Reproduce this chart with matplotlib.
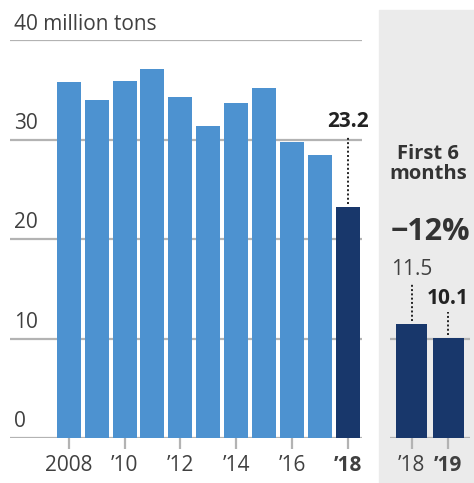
import matplotlib.pyplot as plt
from matplotlib.patches import Rectangle

# annual values, million tons
years = list(range(2008, 2019))
tons = [35.8, 34.0, 35.9, 37.1, 34.3, 31.4, 33.7, 35.2, 29.7, 28.4, 23.2]
tick_years = [2008, 2010, 2012, 2014, 2016, 2018]
tick_labels = ["2008", "\u201910", "\u201912", "\u201914", "\u201916", "\u201918"]

# first six months
half_labels = ["\u201918", "\u201919"]
half_tons = [11.5, 10.1]

light = "#4d92d0"
dark = "#18376b"
grid_c = "#b3b3b3"
txt = "#404040"
fs = 15
plt.rcParams['font.family'] = ['Open Sans', 'DejaVu Sans']

W, H = 474, 483
fig = plt.figure(figsize=(W / 100, H / 100), dpi=100)

def px(x0, y0, x1, y1):
    # pixel box (top-left origin) -> figure fraction
    return [x0 / W, 1 - y1 / H, (x1 - x0) / W, (y1 - y0) / H]

# grey panel on the right
fig.patches.append(Rectangle((379 / W, 0), 1, 1 - 10 / H, transform=fig.transFigure,
                             color="#ebebeb", zorder=-5))

# --- main chart ---
ax = fig.add_axes(px(10, 40, 362, 438))
ax.set_xlim(2005.9, 2018.5)
ax.set_ylim(0, 40)
for v in [0, 10, 20, 30, 40]:
    ax.axhline(v, color=grid_c, lw=1.6, zorder=1)
colors = [light] * (len(years) - 1) + [dark]
ax.bar(years, tons, width=0.86, color=colors, zorder=2)
for s in ax.spines.values():
    s.set_visible(False)
ax.set_yticks([])
ax.set_xticks(tick_years)
ax.set_xticklabels(tick_labels, fontsize=fs, color=txt)
ax.get_xticklabels()[-1].set_fontweight("bold")
ax.tick_params(axis="x", length=8, width=1.6, color=grid_c, pad=4)
for v in [0, 10, 20, 30]:
    ax.text(2006.05, v + 0.6, str(v), fontsize=fs, color=txt, va="bottom", ha="left")
ax.text(2006.05, 40.5, "40 million tons", fontsize=fs, color=txt, va="bottom", ha="left",
        clip_on=False)
ax.text(2018, 30.8, f"{tons[-1]}", fontsize=fs, fontweight="bold", color="#222222",
        ha="center", va="bottom")
ax.plot([2018, 2018], [tons[-1] + 0.3, 30.4], ls=(0, (1, 1.2)), color="#222222", lw=1.4, zorder=3)

# --- first six months ---
ax2 = fig.add_axes(px(390, 40, 470, 438))
ax2.set_facecolor("none")
ax2.set_xlim(-0.6, 1.6)
ax2.set_ylim(0, 40)
for v in [0, 10]:
    ax2.axhline(v, color=grid_c, lw=1.6, zorder=1)
ax2.bar([0, 1], half_tons, width=0.85, color=dark, zorder=2)
for s in ax2.spines.values():
    s.set_visible(False)
ax2.set_yticks([])
ax2.set_xticks([0, 1])
ax2.set_xticklabels(half_labels, fontsize=fs, color=txt)
ax2.get_xticklabels()[-1].set_fontweight("bold")
ax2.tick_params(axis="x", length=8, width=1.6, color=grid_c, pad=4)
ax2.text(0, 15.9, f"{half_tons[0]}", fontsize=fs, color=txt, ha="center", va="bottom")
ax2.plot([0, 0], [half_tons[0] + 0.3, 15.5], ls=(0, (1, 1.2)), color="#222222", lw=1.4)
ax2.text(1, 13.0, f"{half_tons[1]}", fontsize=fs, fontweight="bold", color="#222222",
         ha="center", va="bottom", clip_on=False)
ax2.plot([1, 1], [half_tons[1] + 0.3, 12.7], ls=(0, (1, 1.2)), color="#222222", lw=1.4)
fig.text(428 / W, 1 - 164 / H, "First 6\nmonths", fontsize=14.5, fontweight="bold",
         color="#333333", ha="center", va="center", linespacing=1.0)
fig.text(430 / W, 1 - 232 / H, "\u221212%", fontsize=22, fontweight="bold",
         color="#333333", ha="center", va="center")

fig.savefig("out.png", dpi=100)
